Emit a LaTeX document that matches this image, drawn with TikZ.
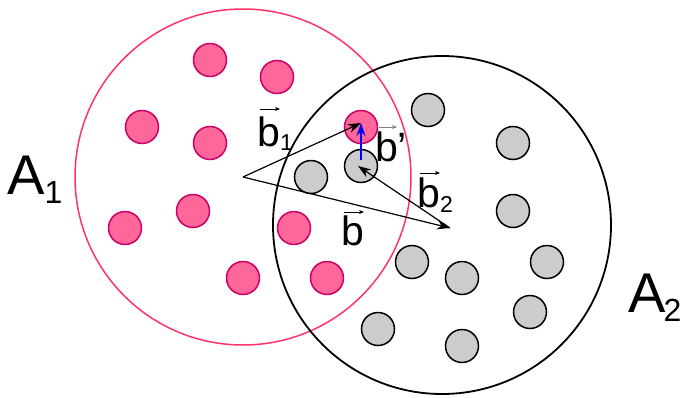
\documentclass[tikz,border=0pt]{standalone}
\usepackage{fontspec}
\setmainfont{Liberation Sans}
\usetikzlibrary{arrows.meta,calc}
\definecolor{setpink}{RGB}{255,51,102}
\definecolor{dotpink}{RGB}{255,102,153}
\definecolor{dotedge}{RGB}{204,0,102}
\definecolor{dotgray}{RGB}{204,204,204}

\begin{document}
\begin{tikzpicture}[x=1pt, y=-1pt,
  pdot/.style={circle, draw=dotedge, fill=dotpink, line width=1.5pt,
               minimum size=33pt, inner sep=0pt},
  gdot/.style={circle, draw=black, fill=dotgray, line width=1.5pt,
               minimum size=33pt, inner sep=0pt},
  vlbl/.style={anchor=base west, inner sep=0pt, font=\fontsize{41}{41}\selectfont},
  slbl/.style={anchor=base west, inner sep=0pt, font=\fontsize{56}{56}\selectfont},
  varr/.style={-{Stealth[length=13pt, width=9pt]}, line width=1.2pt},
  tarr/.style={-{Stealth[length=5pt, width=4pt]}, line width=0.7pt}
]
\useasboundingbox (0,0) rectangle (681,397);

% Sets
\draw[setpink, line width=1.5pt] (243,177) circle (168);
\draw[black, line width=1.8pt]   (442,225) circle (169);

% Elements of A1
\foreach \x/\y [count=\i] in {210/60, 277/77, 142/127, 210/143, 361/127,
                              125/228, 193/211, 294/228, 243/278, 327/278}
  \node[pdot] (p\i) at (\x,\y) {};

% Elements of A2
\foreach \x/\y [count=\i] in {428/110, 513/143, 311/177, 361/166, 513/211, 412/262,
                              462/278, 547/262, 530/312, 378/329, 462/346}
  \node[gdot] (g\i) at (\x,\y) {};

% Vector ends
\coordinate (o)  at (243,177);
\coordinate (e)  at (450,228);
\coordinate (t)  at (361,123);
\coordinate (h)  at (358,166);
\coordinate (s)  at (361,160);

% Vectors
\draw[varr] (o) -- (t);
\draw[varr] (o) -- (e);
\draw[varr] (e) -- (h);
\draw[varr, blue] (s) -- (t);

% Labels
\node[slbl] (la1) at (7,194)   {A\raisebox{-9pt}{\fontsize{32}{32}\selectfont 1}};
\node[slbl] (la2) at (628,312) {A\kern-2pt\raisebox{-9pt}{\fontsize{32}{32}\selectfont 2}};
\node[vlbl] (lb1) at (257,146) {b\raisebox{-4pt}{\fontsize{23}{23}\selectfont 1}};
\node[vlbl] (lb2) at (417,207) {b\raisebox{-5pt}{\fontsize{23}{23}\selectfont 2}};
\node[vlbl] (lbp) at (375,161) {b'};
\node[vlbl] (lb)  at (341,245) {b};

% Vector marks over the labels
\draw[tarr]          ($(lb1.base west)+(3,-37)$) -- ++(20,0);
\draw[tarr]          ($(lb2.base west)+(3,-34)$) -- ++(20,0);
\draw[tarr, gray]    ($(lbp.base west)+(4,-34)$) -- ++(18,0);
\draw[tarr]          ($(lb.base west)+(3,-33)$)  -- ++(20,0);
\end{tikzpicture}
\end{document}
